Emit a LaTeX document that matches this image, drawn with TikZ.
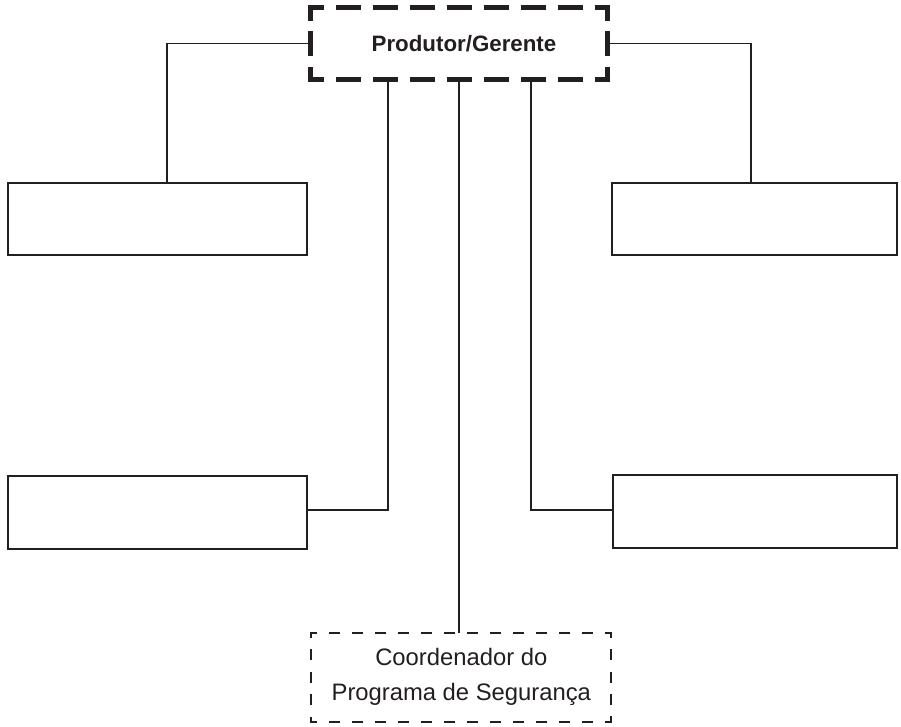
\documentclass[tikz,border=0pt]{standalone}
\usepackage{fontspec}
\setmainfont{Liberation Sans}
\definecolor{ink}{RGB}{35,31,32}
\tikzset{
  plainbox/.style={draw=ink,line width=2pt,inner sep=0pt,rectangle},
  ghostbox/.style={inner sep=0pt,outer sep=0pt,rectangle,text=ink,align=center},
  link/.style={draw=ink,line width=1.6pt},
  bolddash/.style={draw=ink,line width=4.5pt,line join=miter,
    dash pattern=on 13pt off 12pt
      on 25pt off 12pt on 25pt off 12pt on 25pt off 12pt on 25pt off 12pt
      on 25pt off 12pt on 25pt off 12pt on 25pt off 12pt
      on 26pt off 10.5pt on 25pt off 10.5pt
      on 26pt off 12pt
      on 25pt off 12pt on 25pt off 12pt on 25pt off 12pt on 25pt off 12pt
      on 25pt off 12pt on 25pt off 12pt on 25pt off 12pt
      on 26pt off 10.5pt on 25pt off 10.5pt
      on 26pt off 12pt},
  thindash/.style={draw=ink,line width=2pt,line join=miter,
    dash pattern=on 6pt off 12pt
      on 11pt off 12pt on 11pt off 12pt on 11pt off 12pt on 11pt off 12pt
      on 11pt off 12pt on 11pt off 12pt on 11pt off 12pt on 11pt off 12pt
      on 11pt off 12pt on 11pt off 12pt on 11pt off 12pt on 11pt off 12pt
      on 11pt off 11.4pt
      on 11pt off 11.4pt on 11pt off 11.4pt on 11pt off 11.4pt
      on 11pt off 12pt
      on 11pt off 12pt on 11pt off 12pt on 11pt off 12pt on 11pt off 12pt
      on 11pt off 12pt on 11pt off 12pt on 11pt off 12pt on 11pt off 12pt
      on 11pt off 12pt on 11pt off 12pt on 11pt off 12pt on 11pt off 12pt
      on 11pt off 11.4pt
      on 11pt off 11.4pt on 11pt off 11.4pt on 11pt off 11.4pt
      on 11pt off 12pt}
}
\begin{document}
\begin{tikzpicture}[x=1pt,y=-1pt]
\useasboundingbox[fill=white] (0,0) rectangle (901,726);

\node[ghostbox,minimum width=297pt,minimum height=72pt,
      font=\bfseries\fontsize{22.3}{26}\selectfont] (top) at (459,43.5) {\hspace*{10pt}Produtor/Gerente};
\node[plainbox,minimum width=299.2pt,minimum height=71.9pt] (lt) at (157.4,218.75) {};
\node[plainbox,minimum width=285pt,minimum height=72.4pt] (rt) at (754.7,219) {};
\node[plainbox,minimum width=299.2pt,minimum height=73pt] (lb) at (157.4,512.3) {};
\node[plainbox,minimum width=284.7pt,minimum height=72.7pt] (rb) at (754.85,511.15) {};
\node[ghostbox,minimum width=300pt,minimum height=88.7pt,
      font=\fontsize{23.8}{35}\selectfont] (bot) at (461.3,677.15)
      {Coordenador do\\Programa de Segurança};

\draw[link] (top.west) -| ([xshift=9.8pt]lt.north);
\draw[link] (top.east) -| ([xshift=-3.5pt]rt.north);
\draw[link] ([xshift=-71.3pt]top.south) |- ([yshift=2.5pt]lb.east);
\draw[link] ([xshift=71.7pt]top.south) |- ([yshift=1.4pt]rb.west);
\draw[link] (top.south) -- (top.south |- bot.north);

\draw[bolddash] (top.north west) -- (top.north east) -- (top.south east)
  -- (top.south west) -- (top.north west) -- ([xshift=13pt]top.north west);
\draw[thindash] (bot.north west) -- (bot.north east) -- (bot.south east)
  -- (bot.south west) -- (bot.north west) -- ([xshift=6pt]bot.north west);
\end{tikzpicture}
\end{document}
